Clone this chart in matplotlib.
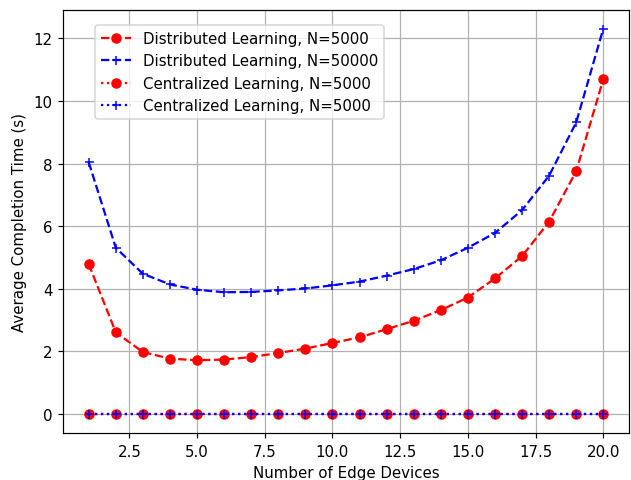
import matplotlib
matplotlib.use('Agg')
import matplotlib.pyplot as plt
import numpy as np

devices = np.arange(1, 21)
dist_5000 = [4.79, 2.61, 1.98, 1.77, 1.72, 1.74, 1.82, 1.95, 2.09, 2.27,
             2.45, 2.71, 2.98, 3.32, 3.72, 4.33, 5.04, 6.14, 7.75, 10.69]
dist_50000 = [8.04, 5.31, 4.48, 4.14, 3.97, 3.89, 3.90, 3.95, 4.01, 4.11,
              4.23, 4.42, 4.63, 4.91, 5.31, 5.78, 6.51, 7.61, 9.31, 12.30]
cent_5000 = [0.0] * 20
cent_50000 = [0.0] * 20

DPI = 108
fig = plt.figure(figsize=(631 / DPI, 481 / DPI), dpi=DPI)
ax = fig.add_subplot(1, 1, 1)
fig.subplots_adjust(left=0.0998, right=0.9968, top=0.978, bottom=0.097)

ax.plot(devices, dist_5000, 'ro--', label='Distributed Learning, N=5000')
ax.plot(devices, dist_50000, 'b+--', label='Distributed Learning, N=50000')
ax.plot(devices, cent_5000, 'ro:', label='Centralized Learning, N=5000')
ax.plot(devices, cent_50000, 'b+:', label='Centralized Learning, N=5000')

ax.set_xlabel('Number of Edge Devices')
ax.set_ylabel('Average Completion Time (s)')
ax.grid(True)
ax.legend(loc='upper left', bbox_to_anchor=(0.0565, 0.964), borderaxespad=0)

plt.savefig('out.png', dpi=DPI)
